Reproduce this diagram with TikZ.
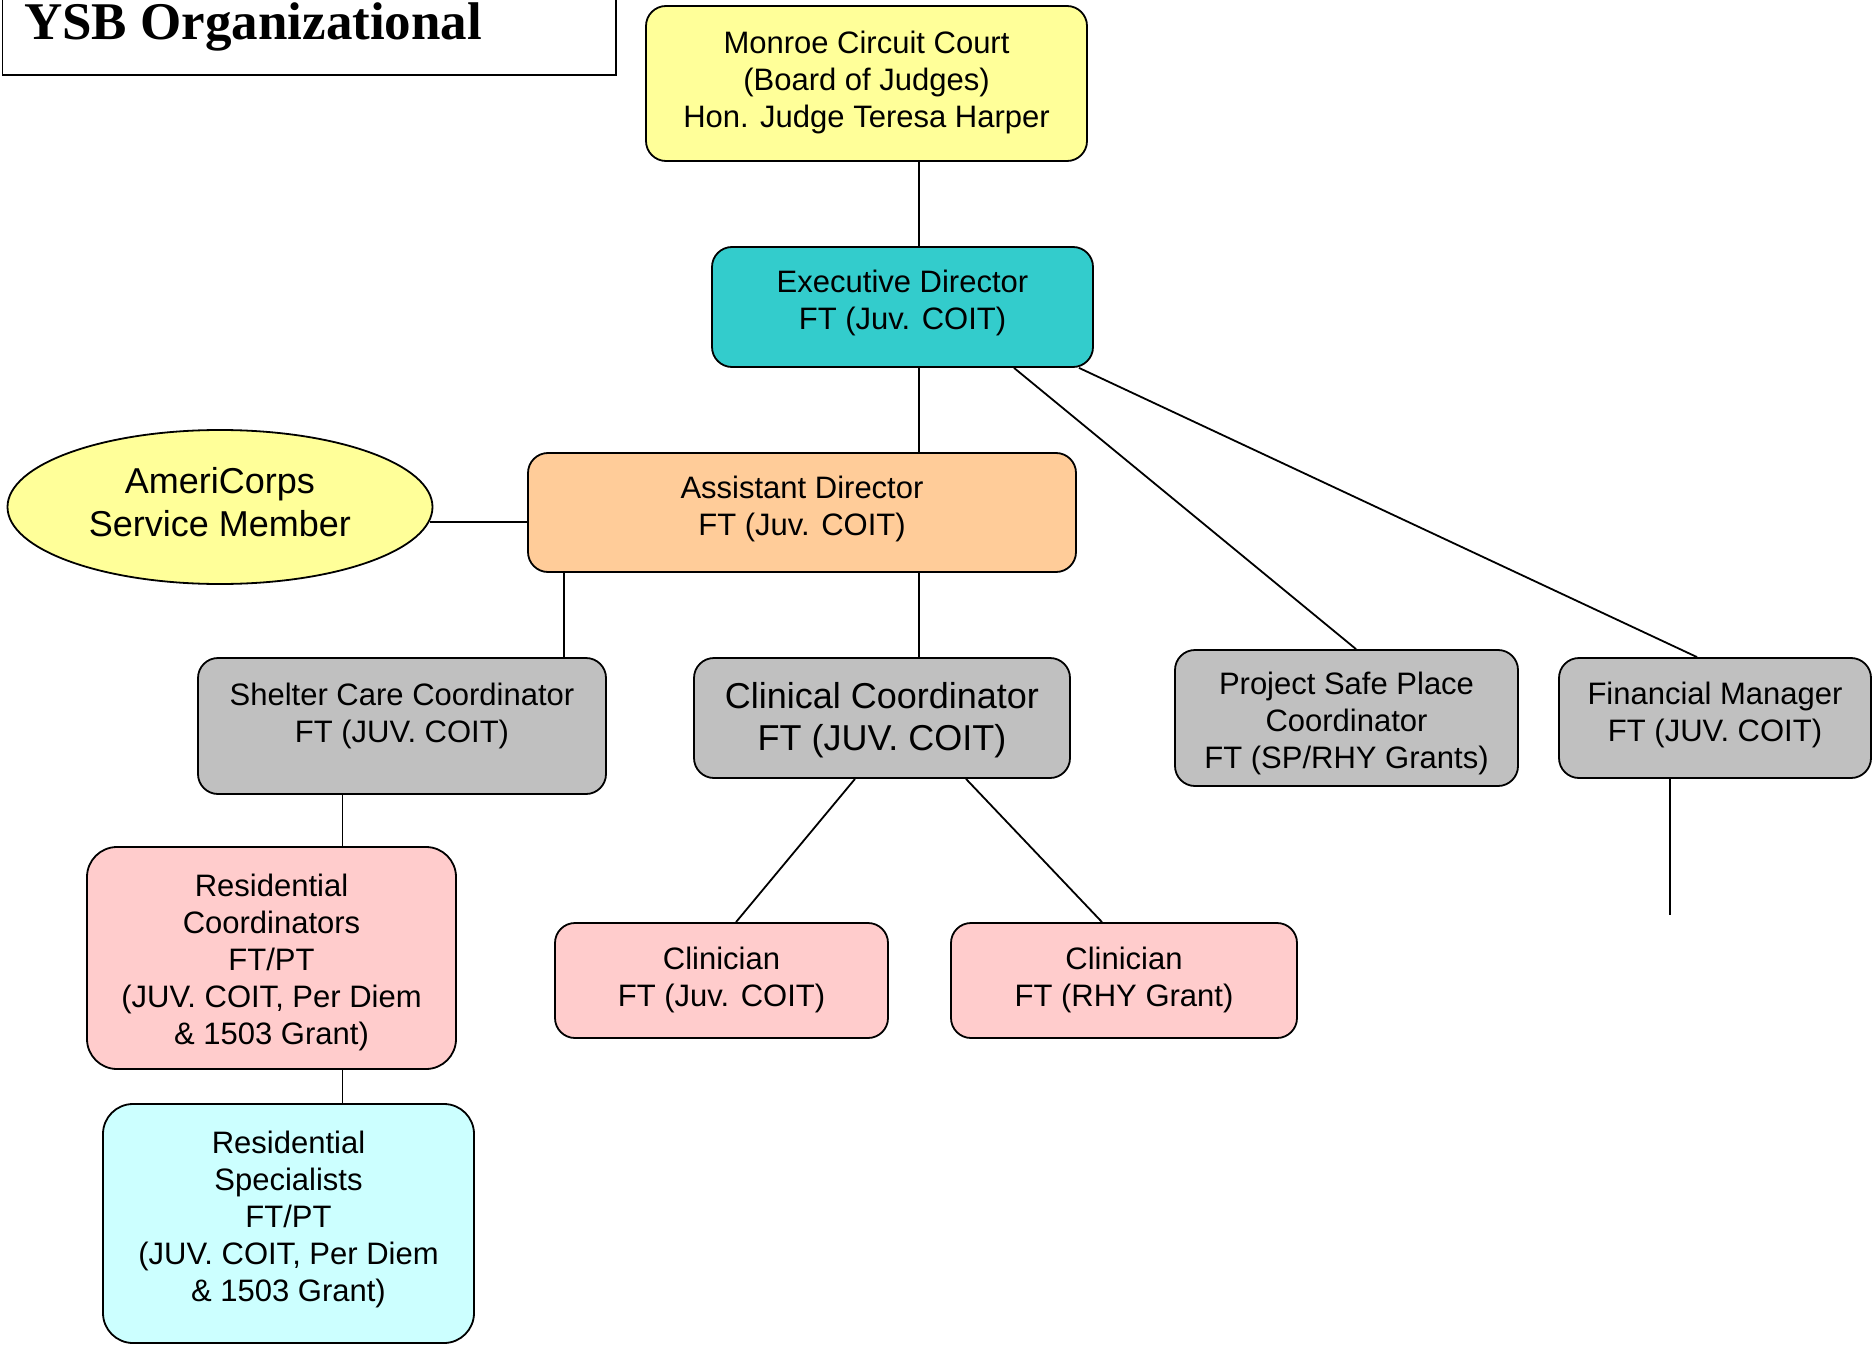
\documentclass[tikz,border=0pt]{standalone}
\usepackage{fontspec}
\setmainfont{Liberation Sans}
\newfontfamily\titlefont{Liberation Serif}
\definecolor{courtyellow}{RGB}{255, 255, 153}
\definecolor{directorteal}{RGB}{51, 204, 204}
\definecolor{assistpeach}{RGB}{255, 204, 153}
\definecolor{staffgray}{RGB}{192, 192, 192}
\definecolor{carepink}{RGB}{255, 204, 204}
\definecolor{specialcyan}{RGB}{204, 255, 255}
\usetikzlibrary{shapes.geometric, positioning}
\tikzset{
	unit/.style={rectangle, rounded corners=20pt, draw=black, line width=1.8pt, align=center, inner sep=0pt, font=\fontsize{31}{37}\selectfont},
	court/.style={unit, fill=courtyellow},
	director/.style={unit, fill=directorteal},
	assist/.style={unit, fill=assistpeach},
	staff/.style={unit, fill=staffgray},
	care/.style={unit, fill=carepink},
	special/.style={unit, fill=specialcyan, rounded corners=30pt},
	volunteer/.style={ellipse, draw=black, line width=1.8pt, fill=courtyellow, align=center, inner sep=0pt, font=\fontsize{36}{43}\selectfont},
	lift/.style={text depth=#1},
	drop/.style={text height=#1},
	link/.style={line width=1.8pt, draw=black},
}

\begin{document}
\begin{tikzpicture}[x=1pt, y=-1pt]
		\useasboundingbox (0,0) rectangle (1873,1348);
		\clip (0,0) rectangle (1873,1348);
		% title box, cut at the top edge
		\draw[line width=1.8pt] (2.4,-10) rectangle (616,75);
		\node[anchor=base west, inner sep=0pt, font=\titlefont\bfseries\fontsize{53}{60}\selectfont] (title) at (24,40) {YSB Organizational};
		% boxes
		\node[court, minimum width=441, minimum height=155, lift=8.5pt] (judges) at (866.5,83.5) {Monroe Circuit Court\\(Board of Judges)\\Hon. Judge Teresa Harper};
		\node[director, minimum width=381, minimum height=120, lift=15pt] (exec) at (902.5,307) {Executive Director\\FT (Juv. COIT)};
		\node[assist, minimum width=548, minimum height=119, lift=13pt] (asst) at (802,512.5) {Assistant Director\\FT (Juv. COIT)};
		\node[volunteer, minimum width=425, minimum height=154, lift=10pt] (americorps) at (220,507) {AmeriCorps\\Service Member};
		\node[staff, minimum width=408, minimum height=136, lift=27pt] (shelter) at (402,726) {Shelter Care Coordinator\\FT (JUV. COIT)};
		\node[staff, minimum width=376, minimum height=120, drop=73pt, font=\fontsize{36}{42}\selectfont] (clinical) at (882,718) {Clinical Coordinator\\FT (JUV. COIT)};
		\node[staff, minimum width=343, minimum height=136, drop=108pt] (safeplace) at (1346.5,718) {Project Safe Place\\Coordinator\\FT (SP/RHY Grants)};
		\node[staff, minimum width=312, minimum height=120, lift=13pt] (finance) at (1715,718) {Financial Manager\\FT (JUV. COIT)};
		\node[care, rounded corners=30pt, minimum width=369, minimum height=222, drop=180pt] (rescoord) at (271.5,958) {Residential\\Coordinators\\FT/PT\\(JUV. COIT, Per Diem\\\& 1503 Grant)};
		\node[special, minimum width=371, minimum height=239, lift=14pt] (resspec) at (288.5,1223.5) {Residential\\Specialists\\FT/PT\\(JUV. COIT, Per Diem\\\& 1503 Grant)};
		\node[care, minimum width=333, minimum height=115, lift=8pt] (clinjuv) at (721.5,980.5) {Clinician\\FT (Juv. COIT)};
		\node[care, minimum width=346, minimum height=115, lift=8pt] (clinrhy) at (1124,980.5) {Clinician\\FT (RHY Grant)};
		% connectors
		\coordinate (spine) at (918.6,0);
		\coordinate (shelterdrop) at (564,0);
		\coordinate (caredrop) at (342.5,0);
		\coordinate (financeend) at (1670,915);
		\draw[link] (judges.south -| spine) -- (exec.north -| spine);
		\draw[link] (exec.south -| spine) -- (asst.north -| spine);
		\draw[link] (asst.south -| spine) -- (clinical.north -| spine);
		\draw[link] ([xshift=111.5pt]exec.south) -- ([xshift=9.5pt]safeplace.north);
		\draw[link] ([xshift=176.5pt]exec.south) -- ([xshift=-18pt]finance.north);
		\draw[link] (americorps.-4.1) -- (americorps.-4.1 -| asst.west);
		\draw[link] (asst.south -| shelterdrop) -- (shelter.north -| shelterdrop);
		\draw[link] (shelter.south -| caredrop) -- (rescoord.north -| caredrop);
		\draw[link] (rescoord.south -| caredrop) -- (resspec.north -| caredrop);
		\draw[link] ([xshift=-27pt]clinical.south) -- ([xshift=14.5pt]clinjuv.north);
		\draw[link] ([xshift=84pt]clinical.south) -- ([xshift=-22pt]clinrhy.north);
		\draw[link] (finance.south -| financeend) -- (financeend);
	\end{tikzpicture}
\end{document}
